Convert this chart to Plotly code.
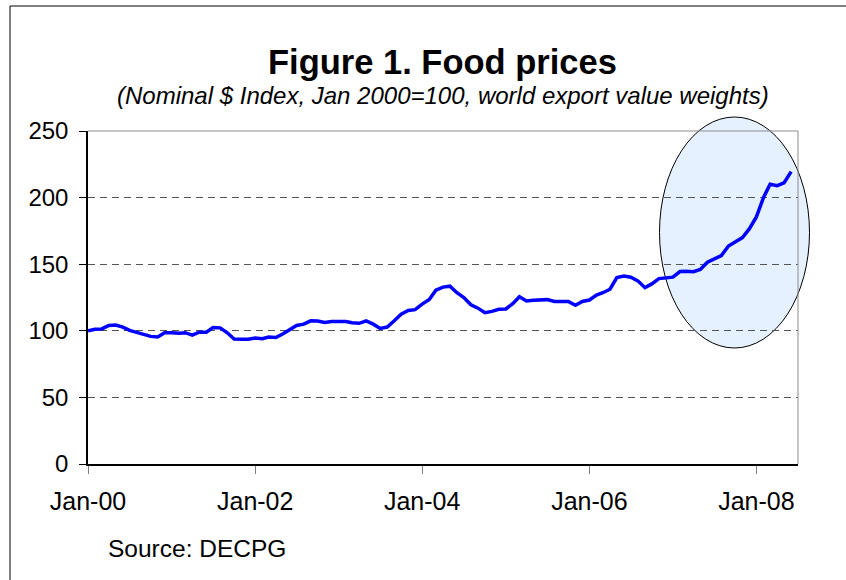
import pandas as pd
import plotly.graph_objects as go

# ---- data ----
start_month = "2000-01-01"
food_index = [
    100, 101.2, 101.4, 104, 104.3, 102.8, 100.3, 98.8, 97, 95.8, 95.3, 98.5,
    98.5, 98.2, 98.6, 96.8, 99, 99, 102.4, 102.2, 98.5, 93.8, 93.6, 93.6,
    94.5, 94, 95.3, 95, 97.6, 100.5, 104, 105, 107.5, 107.4, 106.2, 107,
    107.3, 107, 106, 105.6, 107.5, 105, 101.8, 102.8, 107.5, 112.5, 115.3, 115.9,
    120, 123.5, 130.5, 132.8, 133.5, 128.6, 125, 119.5, 117, 113.6, 114.6, 116.1,
    116.4, 120.5, 125.6, 122.4, 123, 123.2, 123.4, 122, 122, 122, 119.1, 122,
    123.1, 126.8, 128.6, 131.2, 140, 141.1, 140.2, 137.5, 132.4, 135.2, 139.2, 139.9,
    140.3, 144.5, 144.8, 144.4, 146, 151.5, 154, 156.5, 163.7, 167, 170, 176.5,
    185.5, 200, 210, 209, 211, 219.5,
]
months = pd.date_range(start_month, periods=len(food_index), freq="MS")
x_tick_vals = ["2000-01-01", "2002-01-01", "2004-01-01", "2006-01-01", "2008-01-01"]
x_tick_text = ["Jan-00", "Jan-02", "Jan-04", "Jan-06", "Jan-08"]
y_tick_vals = [0, 50, 100, 150, 200, 250]
x_range = ["2000-01-01", "2008-07-01"]
y_range = [0, 250]

title_text = "Figure 1. Food prices"
subtitle_text = "(Nominal $ Index, Jan 2000=100, world export value weights)"
source_text = "Source: DECPG"

# ---- layout geometry (pixels) ----
W, H = 846, 580
ML, MR, MT, MB = 88, 48, 131, 116
PW, PH = W - ML - MR, H - MT - MB


def px_x(px):
    return (px - ML) / PW


def px_y(py):
    return (H - MB - py) / PH


FONT = "Liberation Sans, Arial, sans-serif"

fig = go.Figure()
fig.add_trace(go.Scatter(
    x=months, y=food_index, mode="lines",
    line=dict(color="#0000FF", width=3.5),
    hoverinfo="x+y", showlegend=False,
))

shapes = [
    # outer chart border (open at right/bottom as in the crop)
    dict(type="rect", xref="paper", yref="paper",
         x0=px_x(10), x1=px_x(W + 10), y0=px_y(6), y1=px_y(H + 10),
         line=dict(color="black", width=1), fillcolor="rgba(0,0,0,0)", layer="below"),
    # highlight ellipse
    dict(type="circle", xref="paper", yref="paper",
         x0=px_x(659.5), x1=px_x(809.5), y0=px_y(348), y1=px_y(117),
         line=dict(color="black", width=1), fillcolor="#E6F1FF", layer="below"),
    # plot-area border top & right (grey)
    dict(type="line", xref="paper", yref="paper", x0=0, x1=1, y0=1, y1=1,
         line=dict(color="#8C8C8C", width=1), layer="above"),
    dict(type="line", xref="paper", yref="paper", x0=1, x1=1, y0=0, y1=1,
         line=dict(color="#8C8C8C", width=1), layer="above"),
]

annotations = [
    dict(text="<b>" + title_text + "</b>", xref="paper", yref="paper",
         x=px_x(442), y=px_y(62), xanchor="center", yanchor="middle",
         showarrow=False, font=dict(family=FONT, size=34.5, color="black")),
    dict(text="<i>" + subtitle_text + "</i>", xref="paper", yref="paper",
         x=px_x(443), y=px_y(95), xanchor="center", yanchor="middle",
         showarrow=False, font=dict(family=FONT, size=24, color="black")),
    dict(text=source_text, xref="paper", yref="paper",
         x=px_x(106), y=px_y(548), xanchor="left", yanchor="middle",
         showarrow=False, font=dict(family=FONT, size=24.5, color="black")),
]

fig.update_layout(
    width=W, height=H,
    margin=dict(l=ML, r=MR, t=MT, b=MB, pad=0),
    paper_bgcolor="white", plot_bgcolor="rgba(0,0,0,0)",
    font=dict(family=FONT, size=24, color="black"),
    shapes=shapes, annotations=annotations,
    showlegend=False,
    xaxis=dict(
        type="date", range=x_range, tickvals=x_tick_vals, ticktext=x_tick_text,
        showgrid=False, zeroline=False, showline=True, linecolor="black", linewidth=1.5,
        ticks="outside", ticklen=8, tickcolor="#808080", tickwidth=1,
        tickfont=dict(family=FONT, size=25, color="black"),
        ticklabelstandoff=6,
    ),
    yaxis=dict(
        range=y_range, tickvals=y_tick_vals,
        showgrid=True, gridcolor="#555555", gridwidth=1, griddash="7px,5px",
        zeroline=False, showline=True, linecolor="black", linewidth=1.5,
        ticks="outside", ticklen=7, tickcolor="black", tickwidth=1,
        tickfont=dict(family=FONT, size=24, color="black"),
        ticklabelstandoff=6,
    ),
)

fig.write_html(
    "out.html",
    config={"displayModeBar": False},
    post_script="document.body.style.margin='0px';document.body.style.padding='0px';",
)
